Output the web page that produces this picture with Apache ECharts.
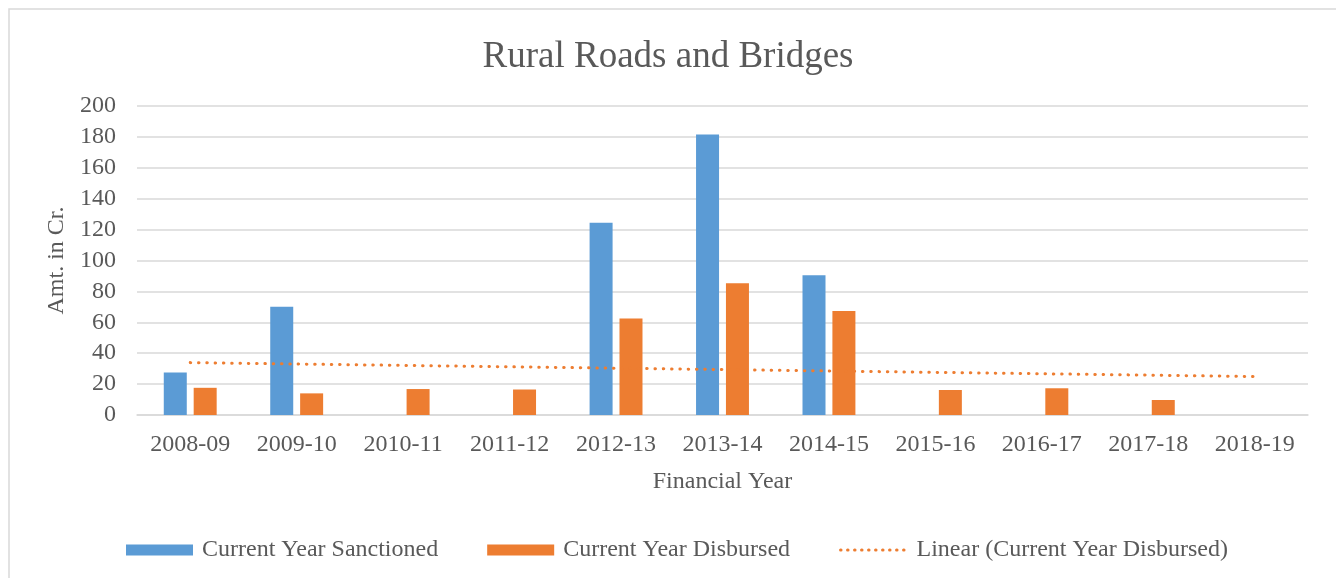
<!DOCTYPE html>
<html>
<head>
<meta charset="utf-8">
<title>Rural Roads and Bridges</title>
<script src="https://cdn.jsdelivr.net/npm/echarts@6/dist/echarts.min.js"></script>
<style>
  html, body { margin: 0; padding: 0; background: #fff; }
  #chart { width: 1336px; height: 578px; }
</style>
</head>
<body>
<div id="chart"></div>
<script>
// data
var years = ["2008-09", "2009-10", "2010-11", "2011-12", "2012-13", "2013-14",
  "2014-15", "2015-16", "2016-17", "2017-18", "2018-19"];
var sanctioned = [27.5, 70, null, null, 124.5, 181.5, 90.5, null, null, null, null];
var disbursed = [17.6, 14, 16.8, 16.5, 62.5, 85.2, 67.3, 16.2, 17.3, 9.7, null];
// linear trendline, only its two ends
var trend = [33.9, null, null, null, null, null, null, null, null, null, 24.9];
var yTicks = { min: 0, max: 200, step: 20 };

var serif = "'Liberation Serif', 'DejaVu Serif', serif";
var textCol = "#595959";
var fs = 24;

var chart = echarts.init(document.getElementById("chart"));

var option = {
  animation: false,
  backgroundColor: "#fff",
  textStyle: { fontFamily: serif, color: textCol },
  title: {
    text: "Rural Roads and Bridges",
    left: "center",
    top: 34,
    textStyle: { fontFamily: serif, fontSize: 37, fontWeight: "normal", color: textCol }
  },
  graphic: [{
    type: "rect",
    shape: { x: 9, y: 9, width: 1340, height: 600 },
    style: { fill: "none", stroke: "#d9d9d9", lineWidth: 1.5 },
    silent: true
  }],
  legend: {
    bottom: 11,
    left: 121,
    itemWidth: 67,
    itemHeight: 11,
    itemGap: 49,
    textStyle: { fontFamily: serif, fontSize: fs, color: textCol, padding: [0, 0, 0, 4] },
    data: [
      { name: "Current Year Sanctioned", icon: "rect" },
      { name: "Current Year Disbursed", icon: "rect" },
      {
        name: "Linear (Current Year Disbursed)",
        itemStyle: { color: "rgba(0,0,0,0)", borderWidth: 0 },
        lineStyle: { color: "#ED7D31", width: 3, type: [0.5, 6.5], cap: "round" }
      }
    ]
  },
  grid: { left: 137, right: 28, top: 106, bottom: 163, containLabel: false },
  xAxis: {
    type: "category",
    data: years,
    name: "Financial Year",
    nameLocation: "middle",
    nameGap: 55,
    nameTextStyle: { fontFamily: serif, fontSize: fs, color: textCol, verticalAlign: "top" },
    axisLine: { lineStyle: { color: "#d9d9d9", width: 1.5 } },
    axisTick: { show: false },
    axisLabel: { fontFamily: serif, fontSize: fs, color: textCol, margin: 18 }
  },
  yAxis: {
    type: "value",
    min: yTicks.min,
    max: yTicks.max,
    interval: yTicks.step,
    name: "Amt. in Cr.",
    nameLocation: "middle",
    nameGap: 66,
    nameTextStyle: { fontFamily: serif, fontSize: fs, color: textCol },
    axisLine: { show: false },
    axisTick: { show: false },
    axisLabel: { fontFamily: serif, fontSize: fs, color: textCol, margin: 21 },
    splitLine: { lineStyle: { color: "#d9d9d9", width: 1.5 } }
  },
  series: [
    {
      name: "Current Year Sanctioned",
      type: "bar",
      data: sanctioned,
      barWidth: 23,
      barGap: "30%",
      itemStyle: { color: "#5B9BD5" }
    },
    {
      name: "Current Year Disbursed",
      type: "bar",
      data: disbursed,
      barWidth: 23,
      barGap: "30%",
      itemStyle: { color: "#ED7D31" }
    },
    {
      name: "Linear (Current Year Disbursed)",
      type: "line",
      data: trend,
      connectNulls: true,
      symbol: "none",
      z: 5,
      itemStyle: { color: "#ED7D31" },
      lineStyle: { color: "#ED7D31", width: 3, type: [0.5, 7.8], cap: "round" }
    }
  ]
};

chart.setOption(option);
</script>
</body>
</html>
